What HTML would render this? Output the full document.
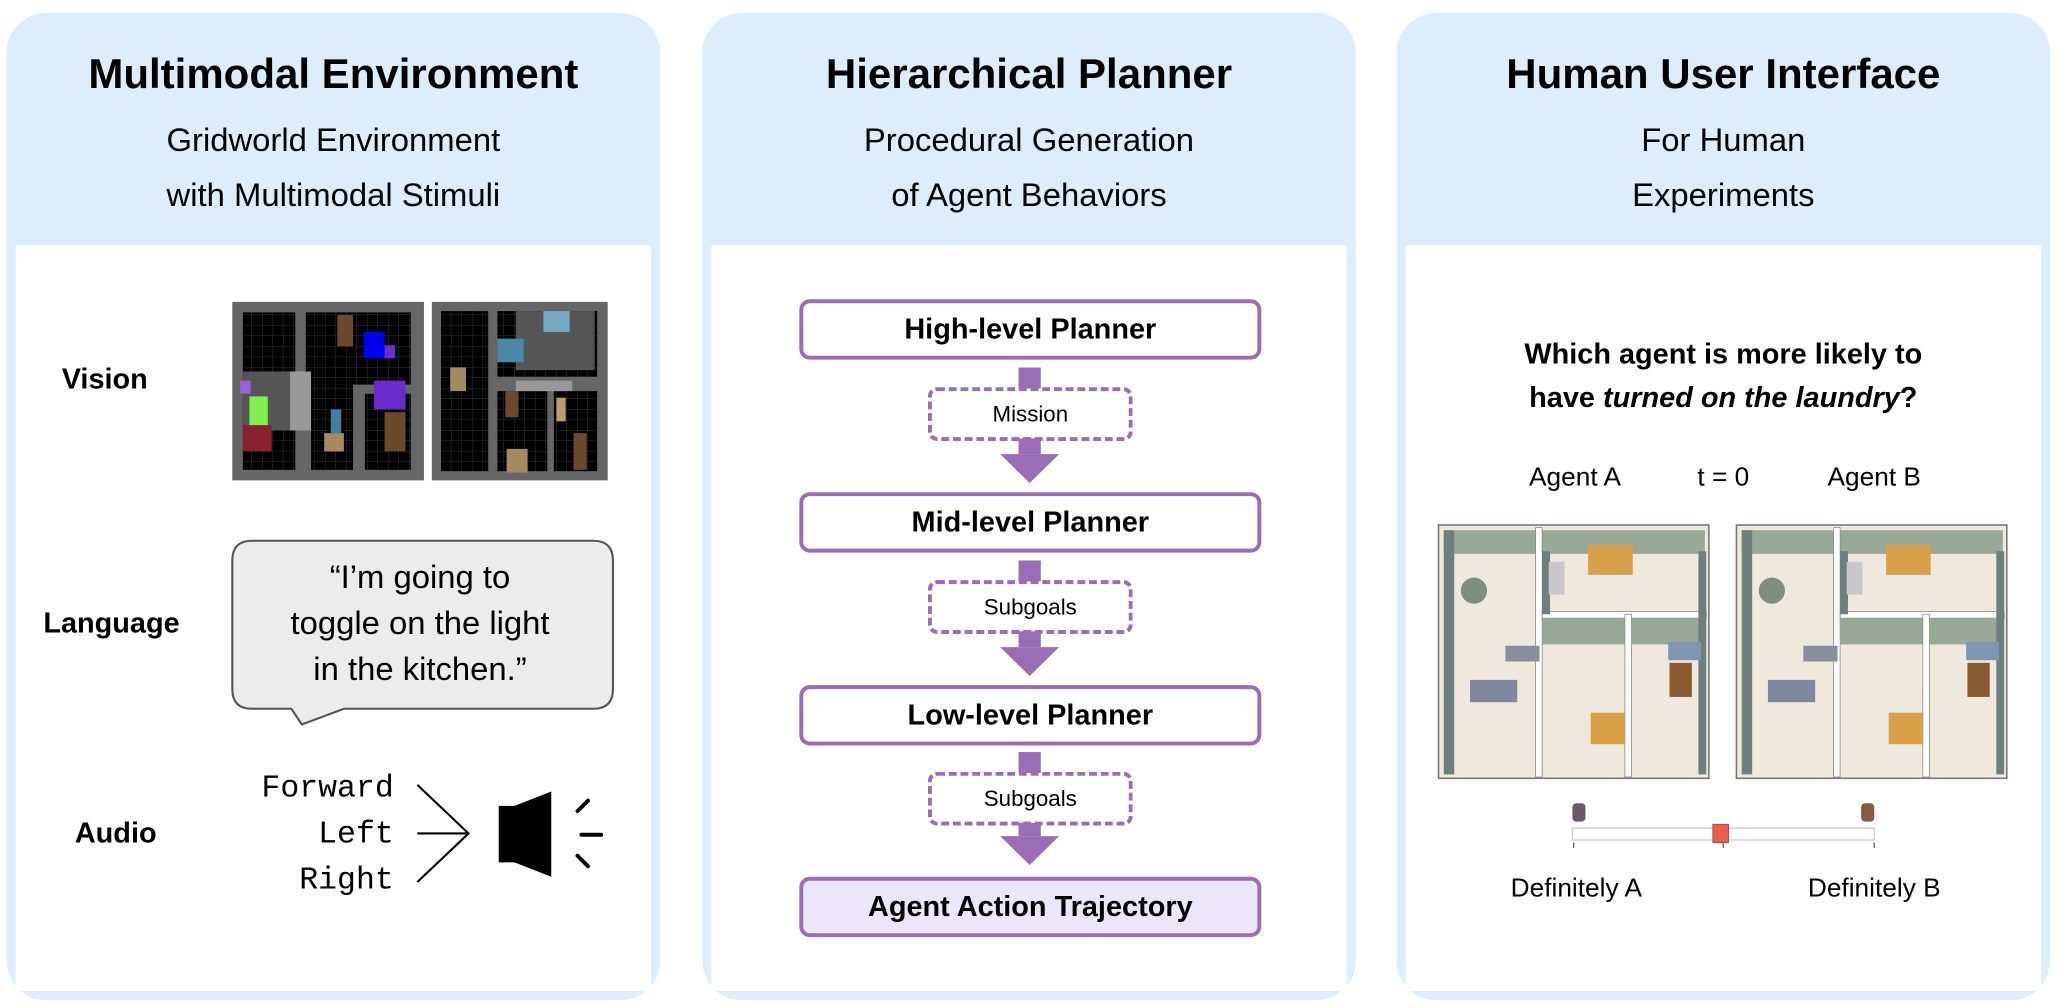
<!DOCTYPE html>
<html><head><meta charset="utf-8"><style>
html,body{margin:0;padding:0;background:#fff;width:2058px;height:1008px;overflow:hidden}
#s{position:absolute;left:0;top:0;width:1568px;height:768px;transform:scale(1.3125);transform-origin:0 0;font-family:"Liberation Sans",sans-serif;color:#000}
.p{position:absolute;top:10px;width:498px;height:752px;background:#ddedfc;border-radius:30px}
.w{position:absolute;left:7px;right:7px;top:177px;bottom:7px;background:#fff}
.t{position:absolute;left:0;right:0;text-align:center}
.h{font-weight:bold;font-size:32px;top:28px}
.sub{font-size:25px;line-height:42px;top:76px}
.lab{position:absolute;font-weight:bold;font-size:22px}
.bx{position:absolute;left:609px;width:346px;height:40px;border:3px solid #9a6db6;border-radius:8px;background:#fff;text-align:center;font-weight:bold;font-size:22px;line-height:40px}
.db{position:absolute;left:707px;width:150px;height:35px;border:3px dashed #9a6db6;border-radius:7px;text-align:center;font-size:17px;line-height:35px}
</style></head><body><div id="s">
<div class="p" style="left:5px"><div class="w"></div>
<div class="t h">Multimodal Environment</div>
<div class="t sub">Gridworld Environment<br>with Multimodal Stimuli</div></div>
<div class="p" style="left:535px"><div class="w"></div>
<div class="t h">Hierarchical Planner</div>
<div class="t sub">Procedural Generation<br>of Agent Behaviors</div></div>
<div class="p" style="left:1064px"><div class="w"></div>
<div class="t h">Human User Interface</div>
<div class="t sub">For Human<br>Experiments</div></div>

<div class="lab" style="left:47px;top:276px">Vision</div>
<div class="lab" style="left:33px;top:462px">Language</div>
<div class="lab" style="left:57px;top:622px">Audio</div>

<svg style="position:absolute;left:0;top:0" width="1568" height="768">
<defs>
<pattern id="g" width="8" height="8" patternUnits="userSpaceOnUse"><rect width="8" height="8" fill="#000"/><path d="M8 0V8H0" fill="none" stroke="#333" stroke-width="0.8"/></pattern>
</defs>
<rect x="177" y="230" width="146" height="136" fill="#666"/>
<rect x="185" y="238" width="40" height="120" fill="url(#g)"/>
<rect x="233" y="238" width="80" height="55" fill="url(#g)"/>
<rect x="237" y="293" width="32" height="65" fill="url(#g)"/>
<rect x="278" y="300" width="35" height="58" fill="url(#g)"/>
<rect x="185" y="283" width="48" height="45" fill="#555"/>
<rect x="221" y="283" width="16" height="45" fill="#999"/>
<rect x="257" y="240" width="12" height="24" fill="#6b4a2b"/>
<rect x="277" y="253" width="16" height="20" fill="#0000f0"/>
<rect x="293" y="263" width="8" height="10" fill="#6a2ccc"/>
<rect x="285" y="290" width="24" height="22" fill="#6a2ccc"/>
<rect x="190" y="302" width="14" height="22" fill="#80f050"/>
<rect x="185" y="324" width="22" height="20" fill="#8a2030"/>
<rect x="183" y="290" width="8" height="10" fill="#9a60e0"/>
<rect x="252" y="312" width="8" height="18" fill="#3f7fa0"/>
<rect x="247" y="330" width="15" height="14" fill="#a88a60"/>
<rect x="293" y="314" width="16" height="30" fill="#6b4a2b"/>
<rect x="329" y="230" width="134" height="136" fill="#666"/>
<rect x="336" y="237" width="36" height="122" fill="url(#g)"/>
<rect x="379" y="237" width="76" height="50" fill="url(#g)"/>
<rect x="379" y="298" width="38" height="61" fill="url(#g)"/>
<rect x="422" y="298" width="33" height="61" fill="url(#g)"/>
<rect x="393" y="237" width="60" height="45" fill="#555"/>
<rect x="393" y="290" width="43" height="8" fill="#999"/>
<rect x="414" y="237" width="20" height="16" fill="#76a8c4"/>
<rect x="379" y="258" width="20" height="18" fill="#4a88aa"/>
<rect x="343" y="280" width="12" height="18" fill="#a88a60"/>
<rect x="385" y="298" width="10" height="20" fill="#6b4a2b"/>
<rect x="424" y="303" width="7" height="18" fill="#c09a70"/>
<rect x="386" y="342" width="16" height="18" fill="#a88a60"/>
<rect x="437" y="330" width="10" height="28" fill="#6b4a2b"/>
<path d="M192 412 H452 Q467 412 467 427 V525 Q467 540 452 540 H262 L230 552 L222 540 H192 Q177 540 177 525 V427 Q177 412 192 412 Z" fill="#ececec" stroke="#555" stroke-width="1.6"/>
<path d="M318 598 L357 635 L318 672 M318 635 H357" fill="none" stroke="#000" stroke-width="1.6"/>
<path d="M380 614 H392 L420 603 V668 L392 657 H380 Z" fill="#000"/>
<path d="M440 618 L448 610 M443 636 H458 M440 652 L448 660" stroke="#000" stroke-width="3" stroke-linecap="round"/>
<g fill="#9a6db6">
<rect x="776" y="280" width="17" height="16"/><rect x="776" y="334" width="17" height="12"/><path d="M762 346 H807 L784.5 368 Z"/>
<rect x="776" y="427" width="17" height="16"/><rect x="776" y="481" width="17" height="12"/><path d="M762 493 H807 L784.5 515 Z"/>
<rect x="776" y="573" width="17" height="16"/><rect x="776" y="627" width="17" height="10"/><path d="M762 637 H807 L784.5 659 Z"/>
</g>
<g id="fp">
<rect x="1096" y="400" width="206" height="193" fill="#efe8dc" stroke="#777" stroke-width="1.2"/>
<rect x="1100" y="404" width="70" height="18" fill="#9aa89a"/>
<rect x="1175" y="404" width="124" height="18" fill="#9aa89a"/>
<rect x="1100" y="404" width="8" height="186" fill="#6f7f7f"/>
<rect x="1170" y="402" width="5" height="190" fill="#fff" stroke="#888" stroke-width="0.6"/>
<rect x="1175" y="466" width="125" height="5" fill="#fff" stroke="#888" stroke-width="0.6"/>
<rect x="1175" y="471" width="63" height="20" fill="#9aa89a"/>
<rect x="1238" y="468" width="5" height="124" fill="#fff" stroke="#888" stroke-width="0.6"/>
<rect x="1243" y="471" width="56" height="20" fill="#9aa89a"/>
<rect x="1175" y="420" width="6" height="48" fill="#6f7f7f"/>
<rect x="1294" y="420" width="6" height="170" fill="#6f7f7f"/>
<rect x="1210" y="415" width="34" height="23" fill="#d9a04a"/>
<rect x="1180" y="428" width="12" height="25" fill="#c8c8cc"/>
<rect x="1147" y="492" width="26" height="12" fill="#8a8f9e"/>
<rect x="1120" y="518" width="36" height="17" fill="#7f889e"/>
<rect x="1113" y="440" width="20" height="20" rx="10" fill="#7f8f7f"/>
<rect x="1212" y="543" width="26" height="24" fill="#d9a04a"/>
<rect x="1272" y="505" width="17" height="26" fill="#8a5a30"/>
<rect x="1271" y="489" width="25" height="14" fill="#7f96b0"/>
</g>
<use href="#fp" x="227"/>
<rect x="1198" y="631" width="230" height="9" fill="#fff" stroke="#ccc" stroke-width="1"/>
<rect x="1305" y="628" width="12" height="14" fill="#e8604c" stroke="#b04030" stroke-width="0.6"/>
<path d="M1199 642v4M1313 642v4M1428 642v4" stroke="#666"/>
<rect x="1198" y="612" width="10" height="14" rx="3" fill="#6a5a6a"/>
<rect x="1418" y="612" width="10" height="14" rx="3" fill="#8a5a40"/>
</svg>

<div style="position:absolute;left:180px;top:423px;width:280px;text-align:center;font-size:25px;line-height:35px">“I’m going to<br>toggle on the light<br>in the kitchen.”</div>
<div style="position:absolute;left:150px;top:584px;width:150px;text-align:right;font-family:'Liberation Mono',monospace;font-size:24px;line-height:35px">Forward<br>Left<br>Right</div>

<div class="bx" style="top:228px">High-level Planner</div>
<div class="bx" style="top:375px">Mid-level Planner</div>
<div class="bx" style="top:522px">Low-level Planner</div>
<div class="bx" style="top:668px;background:#ece6fb">Agent Action Trajectory</div>
<div class="db" style="top:295px">Mission</div>
<div class="db" style="top:442px">Subgoals</div>
<div class="db" style="top:588px">Subgoals</div>

<div style="position:absolute;left:1064px;width:498px;top:253px;text-align:center;font-weight:bold;font-size:22px;line-height:33px">Which agent is more likely to<br>have <i>turned on the laundry</i>?</div>
<div style="position:absolute;left:1140px;width:120px;top:353px;text-align:center;font-size:20px">Agent A</div>
<div style="position:absolute;left:1263px;width:100px;top:353px;text-align:center;font-size:20px">t = 0</div>
<div style="position:absolute;left:1368px;width:120px;top:353px;text-align:center;font-size:20px">Agent B</div>
<div style="position:absolute;left:1121px;width:160px;top:666px;text-align:center;font-size:20px">Definitely A</div>
<div style="position:absolute;left:1348px;width:160px;top:666px;text-align:center;font-size:20px">Definitely B</div>
</div></body></html>
